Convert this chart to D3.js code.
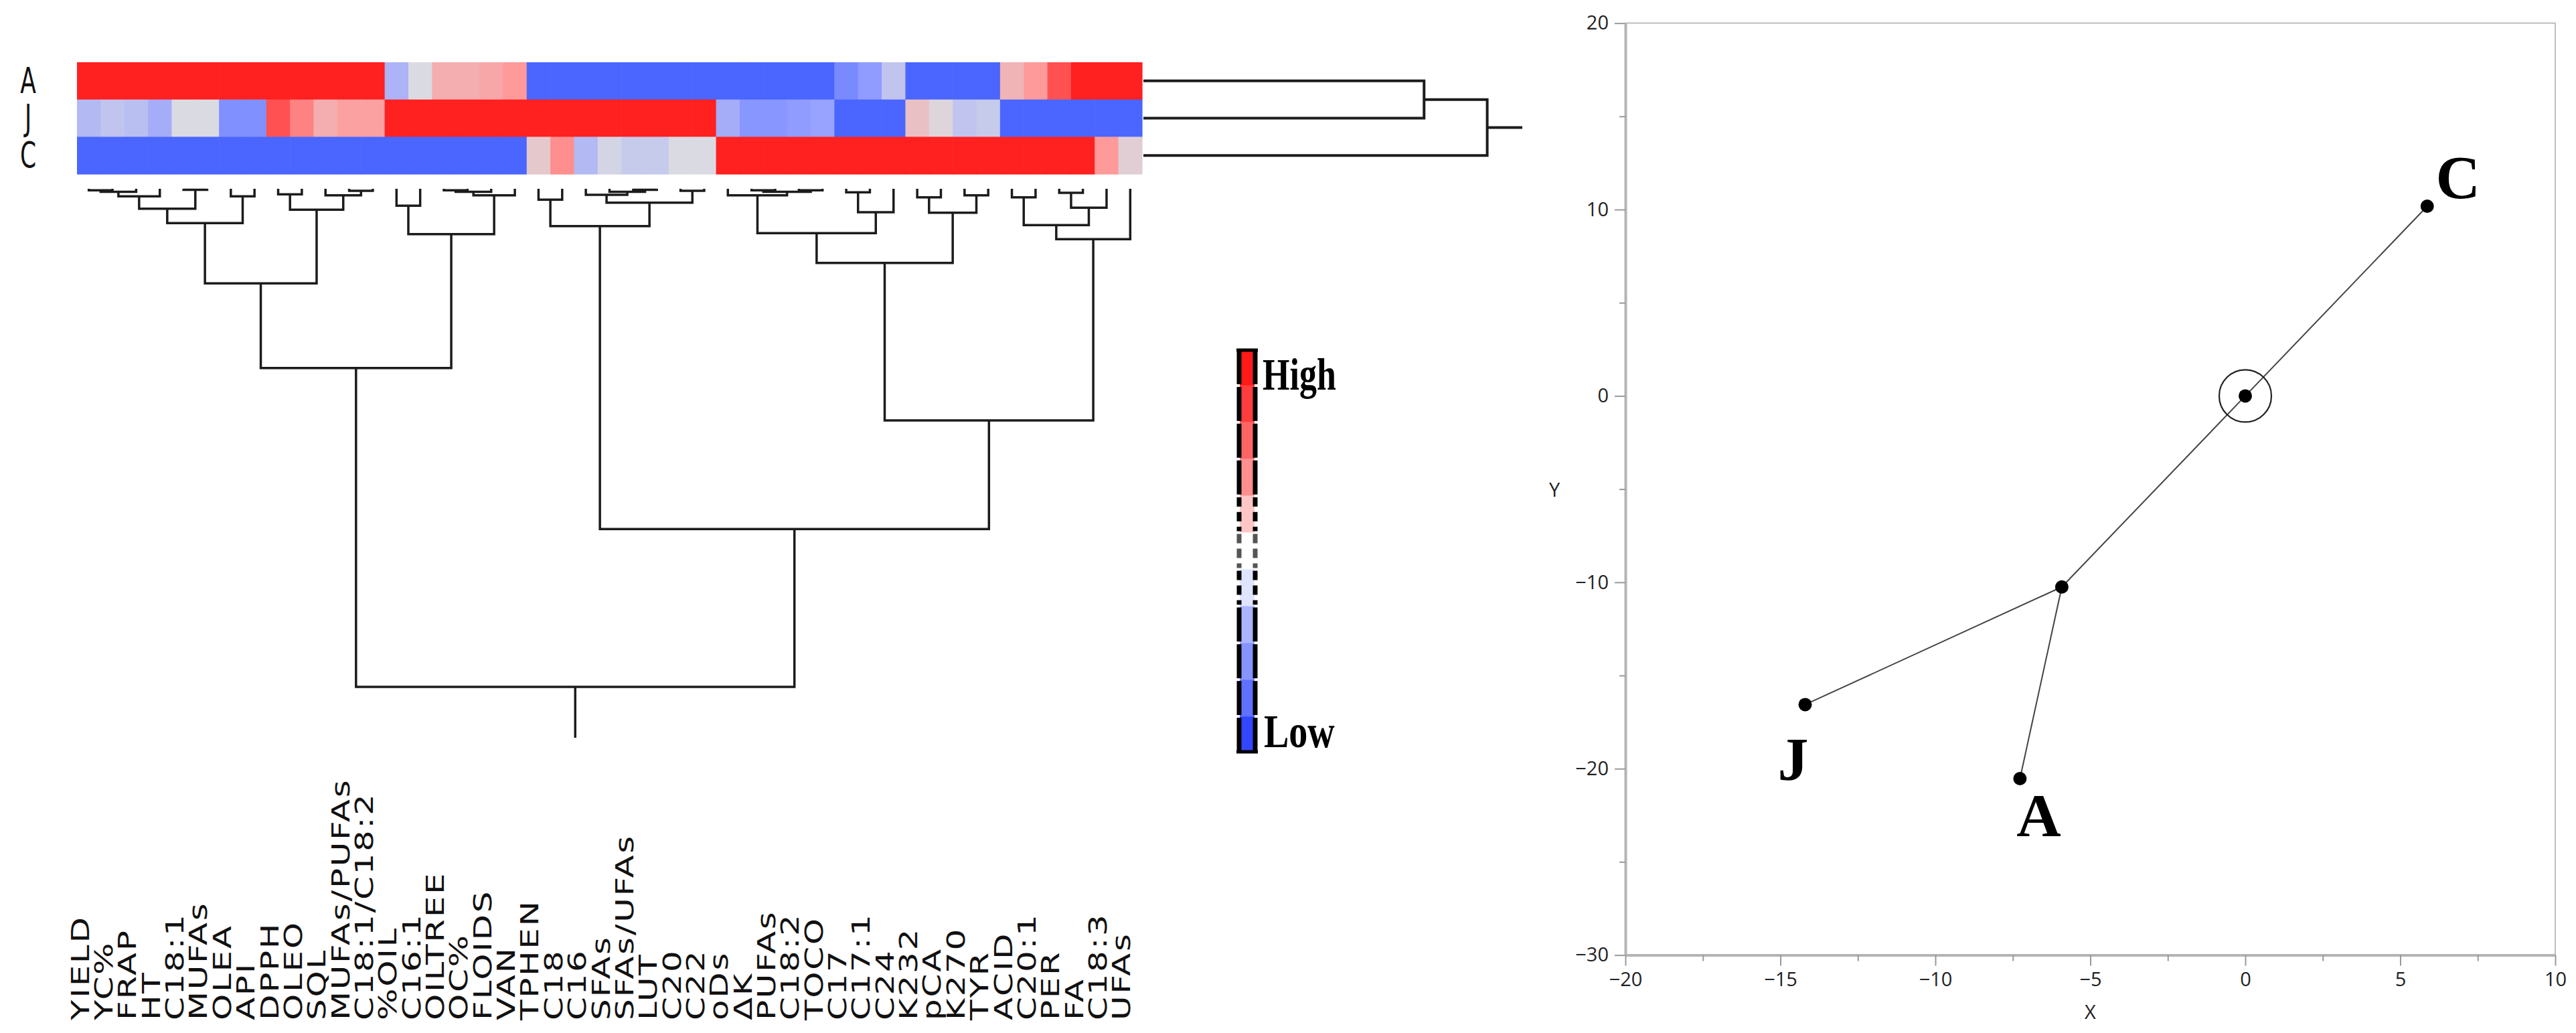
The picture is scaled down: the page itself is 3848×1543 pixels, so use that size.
<!DOCTYPE html>
<html><head><meta charset="utf-8">
<script src="https://cdn.jsdelivr.net/npm/d3@7"></script>
<style>body{margin:0;background:#fff}</style>
</head><body>
<svg id="c" width="3848" height="1543" xmlns="http://www.w3.org/2000/svg"></svg>
<script>
// ---------- data ----------
const variables = ["YIELD","YC%","FRAP","HT","C18:1","MUFAs","OLEA","API","DPPH","OLEO","SQL","MUFAs/PUFAs","C18:1/C18:2","%OIL","C16:1","OILTREE","OC%","FLOIDS","VAN","TPHEN","C18","C16","SFAs","SFAs/UFAs","LUT","C20","C22","oDs","ΔK","PUFAs","C18:2","TOCO","C17","C17:1","C24","K232","pCA","K270","TYR","ACID","C20:1","PER","FA","C18:3","UFAs"];
const samples = ["A","J","C"];
const valuesA = [1,1,1,1,1,1,1,1,1,1,1,1,1,-0.35,0,0.35,0.35,0.4,0.5,-1,-1,-1,-1,-1,-1,-1,-1,-1,-1,-1,-1,-1,-0.7,-0.55,-0.2,-1,-1,-1,-1,0.3,0.5,0.8,1,1,1];
const valuesJ = [-0.3,-0.2,-0.25,-0.4,0,0,-0.65,-0.65,0.8,0.6,0.35,0.45,0.45,1,1,1,1,1,1,1,1,1,1,1,1,1,1,-0.4,-0.6,-0.6,-0.55,-0.5,-1,-1,-1,0.2,0.05,-0.2,-0.15,-1,-1,-1,-1,-1,-1];
const valuesC = [-1,-1,-1,-1,-1,-1,-1,-1,-1,-1,-1,-1,-1,-1,-1,-1,-1,-1,-1,0.15,0.55,-0.3,-0.05,-0.15,-0.15,0,0,1,1,1,1,1,1,1,1,1,1,1,1,1,1,1,1,0.5,0.1];
// column clustering: [nodeA, nodeB, height]; node ids >= 45 refer to earlier merges
const colLinkage = [
 [0,1,0.3],[45,2,0.6],[46,3,1.5],[4,5,0.2],[47,48,4.0],[6,7,1.5],[49,50,6.9],
 [8,9,1.1],[11,12,0.4],[10,53,1.3],[52,54,4.2],[51,55,19.0],
 [13,14,3.4],[15,16,0.3],[58,17,0.6],[59,18,1.3],[57,60,9.1],[56,61,36.0],
 [19,20,2.2],[23,24,0.2],[22,64,0.6],[21,65,1.2],[25,26,0.4],[66,67,2.8],[63,68,7.5],
 [28,29,0.3],[30,31,0.3],[70,71,0.6],[27,72,1.3],[32,33,0.7],[74,34,4.7],[73,75,8.9],
 [35,36,1.7],[37,38,1.3],[77,78,4.8],[76,79,14.9],
 [39,40,1.7],[41,42,0.8],[82,43,3.8],[81,83,7.3],[84,44,10.1],[80,85,46.5],
 [69,86,68.3],[62,87,100]
];
// row clustering (A=0, J=1, C=2)
const rowLinkage = [[0,1,80],[3,2,98]];
const legendColors = ["#ff1a1a","#ff3d3d","#ff6464","#ff8e8e","#ffc6c6","#ffffff","#dfe4ff","#aab4ff","#8594ff","#6070ff","#3346ff"];
const legendLabels = ["High","Low"];
const pointX = [5.87, 0, -5.92, -14.2, -7.27];
const pointY = [10.18, 0, -10.25, -16.56, -20.53];
const pointLabels = ["C","","","J","A"];
const links = [[1,0],[1,2],[2,3],[2,4]];
const xTicks = [-20,-15,-10,-5,0,5,10];
const yTicks = [-30,-20,-10,0,10,20];

// ---------- drawing ----------
const svg = d3.select("#c");
svg.append("rect").attr("width",3848).attr("height",1543).attr("fill","#fff");

const matrix = [valuesA, valuesJ, valuesC];
const x = d3.scaleBand().domain(d3.range(variables.length)).range([115,1706]);
const y = d3.scaleBand().domain(samples).range([93,260]);
const color = d3.scaleLinear().domain([-1,-0.5,0,0.5,1])
  .range(["#4a66ff","#98a2ff","#dadbe2","#ff9a9a","#ff2020"]);

const hm = svg.append("g");
samples.forEach((s,ri)=>{
  hm.selectAll(null).data(matrix[ri]).join("rect")
    .attr("x",(d,i)=>x(i)).attr("y",y(s))
    .attr("width",x.bandwidth()+0.6).attr("height",y.bandwidth()+0.6)
    .attr("fill",d=>color(d));
});
// row labels
svg.append("g").selectAll("text").data(samples).join("text")
  .attr("transform",d=>`translate(42,${y(d)+y.bandwidth()/2}) scale(0.72,1.1)`)
  .attr("text-anchor","middle").attr("dominant-baseline","central")
  .attr("font-family","DejaVu Sans").attr("font-size",48).attr("fill","#111")
  .text(d=>d);

// column labels (read bottom-to-top, bottoms aligned, stretched along the text)
svg.append("g").selectAll("text").data(variables).join("text")
  .attr("transform",(d,i)=>`translate(${x(i)+x.bandwidth()/2},1524) rotate(-90) scale(1.35,1)`)
  .attr("text-anchor","start")
  .attr("font-family","DejaVu Sans").attr("font-size",37).attr("letter-spacing",2)
  .attr("fill","#111").text(d=>d);

// column dendrogram
const yD = d3.scaleLinear().domain([0,100]).range([282,1026]);
const cnodes = variables.map((v,i)=>({x:x(i)+x.bandwidth()/2,h:0}));
const dg = svg.append("g").attr("fill","none").attr("stroke","#1c1c1c").attr("stroke-width",3.5);
colLinkage.forEach(([a,b,h])=>{
  const A=cnodes[a], B=cnodes[b];
  cnodes.push({x:(A.x+B.x)/2,h:h});
  dg.append("path").attr("d",`M${A.x},${yD(A.h)}V${yD(h)}H${B.x}V${yD(B.h)}`);
});
const croot = cnodes[cnodes.length-1];
dg.append("path").attr("d",`M${croot.x},${yD(croot.h)}V${yD(croot.h)+76}`);

// row dendrogram
const xR = d3.scaleLinear().domain([0,108]).range([1708,2274]);
const rnodes = samples.map(s=>({y:y(s)+y.bandwidth()/2,h:0}));
const rg = svg.append("g").attr("fill","none").attr("stroke","#1c1c1c").attr("stroke-width",4);
rowLinkage.forEach(([a,b,h])=>{
  const A=rnodes[a], B=rnodes[b];
  rnodes.push({y:(A.y+B.y)/2,h:h});
  rg.append("path").attr("d",`M${xR(A.h)},${A.y}H${xR(h)}V${B.y}H${xR(B.h)}`);
});
const rroot = rnodes[rnodes.length-1];
rg.append("path").attr("d",`M${xR(rroot.h)},${rroot.y}H${xR(108)}`);

// legend
const ly = d3.scaleBand().domain(d3.range(legendColors.length)).range([521,1125]);
const lg = svg.append("g");
lg.selectAll("rect").data(legendColors).join("rect")
  .attr("x",1852).attr("y",(d,i)=>ly(i)).attr("width",22).attr("height",ly.bandwidth())
  .attr("fill",d=>d);
legendColors.forEach((c,i)=>{
  const dashed = (i>=4 && i<=6);
  [1851,1875].forEach(xx=>{
    lg.append("line").attr("x1",xx).attr("x2",xx)
      .attr("y1",ly(i)+2).attr("y2",ly(i)+ly.bandwidth()-2)
      .attr("stroke",i==5?"#555":"#000").attr("stroke-width",7)
      .attr("stroke-dasharray",dashed?"14,8":null);
  });
});
lg.append("line").attr("x1",1847).attr("x2",1879).attr("y1",523).attr("y2",523).attr("stroke","#000").attr("stroke-width",5);
lg.append("line").attr("x1",1847).attr("x2",1879).attr("y1",1123).attr("y2",1123).attr("stroke","#000").attr("stroke-width",5);
lg.append("text").attr("transform","translate(1886,582) scale(1,1.3)")
  .attr("font-family","Liberation Serif").attr("font-weight","bold").attr("font-size",52)
  .attr("fill","#000").text(legendLabels[0]);
lg.append("text").attr("transform","translate(1888,1116) scale(1,1.25)")
  .attr("font-family","Liberation Serif").attr("font-weight","bold").attr("font-size",56)
  .attr("fill","#000").text(legendLabels[1]);

// ---------- scatter (constellation) ----------
const sx = d3.scaleLinear().domain([-20,10]).range([2428,3817]);
const sy = d3.scaleLinear().domain([-30,20]).range([1426.6,34.6]);
const sc = svg.append("g");
sc.append("path").attr("d",`M${sx(-20)},${sy(20)}H${sx(10)}V${sy(-30)}`)
  .attr("fill","none").attr("stroke","#bdbdbd").attr("stroke-width",2);

const minorX = d3.pairs(xTicks).map(([a,b])=>(a+b)/2);
const minorY = d3.pairs(yTicks).map(([a,b])=>(a+b)/2);

const gx = sc.append("g").attr("transform",`translate(0,${sy(-30)})`)
  .call(d3.axisBottom(sx).tickValues(xTicks).tickSize(16).tickSizeOuter(0).tickPadding(10));
const gxm = sc.append("g").attr("transform",`translate(0,${sy(-30)})`)
  .call(d3.axisBottom(sx).tickValues(minorX).tickSize(9).tickFormat(""));
const gy = sc.append("g").attr("transform",`translate(${sx(-20)},0)`)
  .call(d3.axisLeft(sy).tickValues(yTicks).tickSize(16).tickSizeOuter(0).tickPadding(9));
const gym = sc.append("g").attr("transform",`translate(${sx(-20)},0)`)
  .call(d3.axisLeft(sy).tickValues(minorY).tickSize(9).tickFormat(""));
[gx,gxm,gy,gym].forEach(g=>{
  g.selectAll(".tick line").attr("stroke","#9a9a9a").attr("stroke-width",2);
  g.selectAll(".tick text").attr("font-family","Open Sans").attr("font-size",29).attr("fill","#222");
});
[gxm,gym].forEach(g=>g.select(".domain").remove());
[gx,gy].forEach(g=>g.select(".domain").attr("stroke","#b4b4b4").attr("stroke-width",4));

sc.append("text").attr("x",(sx(-20)+sx(10))/2).attr("y",1522).attr("text-anchor","middle")
  .attr("font-family","Open Sans").attr("font-size",29).attr("fill","#222").text("X");
sc.append("text").attr("x",2322).attr("y",(sy(20)+sy(-30))/2).attr("text-anchor","middle")
  .attr("dominant-baseline","central")
  .attr("font-family","Open Sans").attr("font-size",29).attr("fill","#222").text("Y");

// links
sc.selectAll(".lnk").data(links).join("line").attr("class","lnk")
  .attr("x1",d=>sx(pointX[d[0]])).attr("y1",d=>sy(pointY[d[0]]))
  .attr("x2",d=>sx(pointX[d[1]])).attr("y2",d=>sy(pointY[d[1]]))
  .attr("stroke","#444").attr("stroke-width",2);
sc.append("circle").attr("cx",sx(pointX[1])).attr("cy",sy(pointY[1])).attr("r",39)
  .attr("fill","none").attr("stroke","#222").attr("stroke-width",2.2);
sc.selectAll(".pt").data(pointX).join("circle").attr("class","pt")
  .attr("cx",(d,i)=>sx(pointX[i])).attr("cy",(d,i)=>sy(pointY[i])).attr("r",10).attr("fill","#000");
const labelOffset = {C:[46,-12], J:[-18,113], A:[28,86]};
sc.selectAll(".plab").data(pointLabels.map((l,i)=>({l,i})).filter(d=>d.l)).join("text").attr("class","plab")
  .attr("x",d=>sx(pointX[d.i])+labelOffset[d.l][0])
  .attr("y",d=>sy(pointY[d.i])+labelOffset[d.l][1])
  .attr("text-anchor","middle")
  .attr("font-family","Liberation Serif").attr("font-weight","bold").attr("font-size",92)
  .attr("fill","#000").text(d=>d.l);
</script>
</body></html>
